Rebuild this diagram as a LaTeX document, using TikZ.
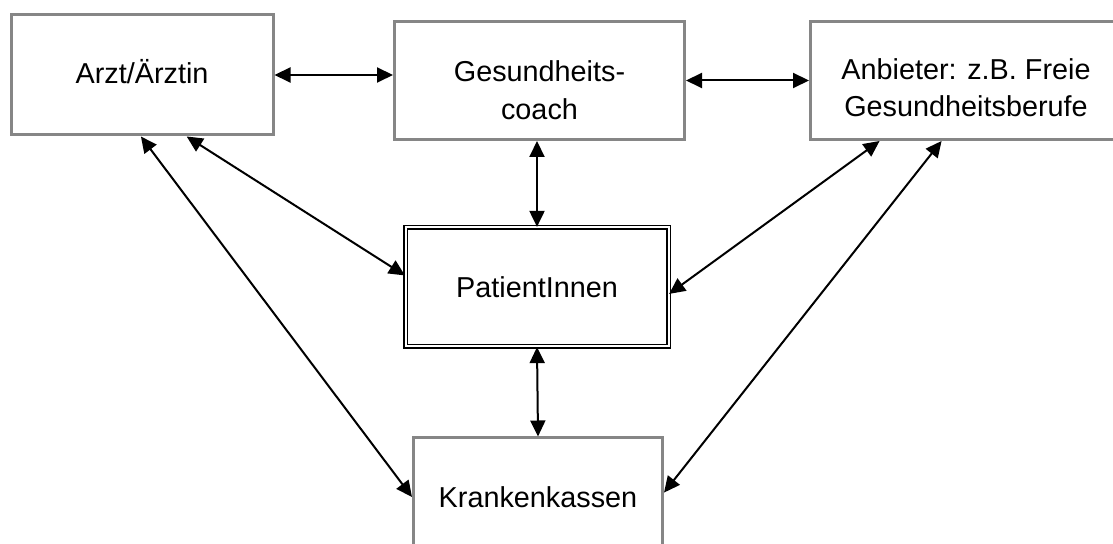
\documentclass[tikz,border=0pt]{standalone}
\usepackage{fontspec}
\setmainfont{Liberation Sans}
\usetikzlibrary{arrows.meta}
\definecolor{boxgray}{RGB}{134,134,134}
\begin{document}
\begin{tikzpicture}[
		x=0.5pt, y=-0.5pt,
		every node/.style={rectangle, align=center, inner sep=0pt, font=\fontsize{14.4}{17.5}\selectfont},
		actor/.style={draw=boxgray, line width=1.5pt},
		center/.style={draw=black, double=white, line width=0.6pt, double distance=1pt},
		link/.style={{Triangle[length=8pt,width=7.5pt]}-{Triangle[length=8pt,width=7.5pt]}, line width=1pt}
		]
		\useasboundingbox (0,0) rectangle (1113,544);
		\begin{scope}
		\clip (0,0) rectangle (1113,544);
		\node[actor, minimum width=131pt, minimum height=60pt] (arzt) at (142,75) {\raisebox{1.5pt}[\height][\depth]{Arzt/Ärztin}};
		\node[actor, minimum width=145pt, minimum height=59pt] (coach) at (539.5,80.5)
			{\raisebox{-6.5pt}[\height][\depth]{\begin{tabular}{@{}c@{}}Gesundheits-\\[1.5pt]coach\end{tabular}}};
		\node[actor, minimum width=155.5pt, minimum height=59pt] (anbieter) at (966,80.5)
			{\raisebox{-5.5pt}[\height][\depth]{\begin{tabular}{@{}c@{}}Anbieter: z.B. Freie\\[1pt]Gesundheitsberufe\end{tabular}}};
		\node[center, minimum width=131.5pt, minimum height=59.5pt] (patient) at (537,287) {PatientInnen};
		\node[actor, minimum width=124.5pt, minimum height=59pt] (kasse) at (538,497) {Krankenkassen};
		\end{scope}
		% Verbindungen
		\draw[link] (arzt.east) -- (arzt.east -| coach.west);
		\draw[link] (coach.east) -- (anbieter.west);
		\draw[link] (patient.north |- coach.south) -- (patient.north);
		\draw[link] (patient.south) -- (kasse.north);
		\draw[link] (arzt.-54) -- (patient.175);
		\draw[link] (arzt.-91) -- (kasse.west);
		\draw[link] (anbieter.-145) -- (patient.-3);
		\draw[link] (anbieter.-112) -- (kasse.2);
	\end{tikzpicture}
\end{document}
